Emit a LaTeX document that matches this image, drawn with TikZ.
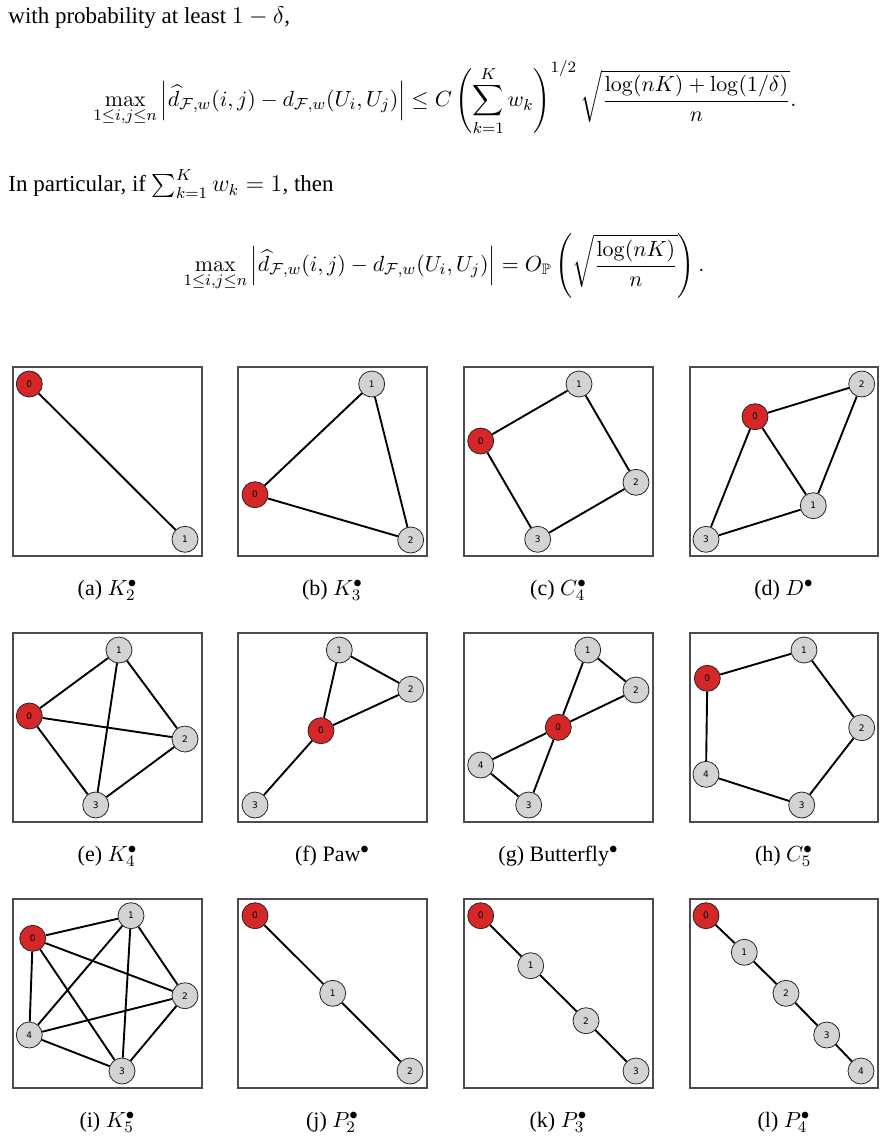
\documentclass[tikz,border=0pt]{standalone}
\usepackage{amsmath,amssymb}
\usepackage[no-math]{fontspec}
\setmainfont{Liberation Serif}
\newfontfamily\lblfont{DejaVu Sans}
\definecolor{nred}{HTML}{D62728}
\definecolor{ngray}{HTML}{D3D3D3}
\tikzset{
  gn/.style={circle, draw=black!85, line width=0.4pt, fill=ngray, minimum size=13pt, inner sep=0pt, font=\lblfont\fontsize{4.5}{4.5}\selectfont},
  rn/.style={gn, fill=nred},
  edgeline/.style={line width=0.95pt, black},
  framebox/.style={draw=black!70, line width=0.7pt},
  captext/.style={font=\fontsize{11}{13}\selectfont, inner sep=0pt, anchor=base},
  bodytext/.style={font=\fontsize{11.5}{13}\selectfont, inner sep=0pt, anchor=base west},
  eqn/.style={font=\fontsize{10.8}{13}\selectfont, inner sep=0pt}
}
\begin{document}
\begin{tikzpicture}[x=0.5pt,y=-0.5pt]
\useasboundingbox (0,0) rectangle (885,1141);

% text
\node[bodytext] (t1) at (8,23.5) {with probability at least $1-\delta$,};
\node[eqn] (eq1) at (445,98) {$\displaystyle \max_{1\le i,j\le n}\left|\widehat{d}_{\mathcal{F},w}(i,j)-d_{\mathcal{F},w}(U_i,U_j)\right|\le C\left(\sum_{k=1}^{K} w_k\right)^{1/2}\sqrt{\frac{\log(nK)+\log(1/\delta)}{n}}.$};
\node[bodytext] (t2) at (8,191.5) {In particular, if $\sum_{k=1}^{K} w_k=1$, then};
\node[eqn] (eq2) at (444,266) {$\displaystyle \max_{1\le i,j\le n}\left|\widehat{d}_{\mathcal{F},w}(i,j)-d_{\mathcal{F},w}(U_i,U_j)\right|= O_{\mathbb{P}}\left(\sqrt{\frac{\log(nK)}{n}}\right).$};

% frames
\foreach \xa/\xb in {13/202,238/427,464/653,690/878}
  \foreach \ya/\yb in {367/556,633/822,899/1088}
    \draw[framebox] (\xa,\ya) rectangle (\xb,\yb);

% (a)
\node[rn] (a0) at (29.3,384) {0};
\node[gn] (a1) at (185,539.3) {1};
\draw[edgeline] (a0) -- (a1);
% (b)
\node[rn] (b0) at (255,494.7) {0};
\node[gn] (b1) at (371.7,384) {1};
\node[gn] (b2) at (410.7,540) {2};
\draw[edgeline] (b0) -- (b1) (b1) -- (b2) (b2) -- (b0);
% (c)
\node[rn] (c0) at (480.7,441) {0};
\node[gn] (c1) at (579,384) {1};
\node[gn] (c2) at (636,482.3) {2};
\node[gn] (c3) at (537.7,539.3) {3};
\draw[edgeline] (c0) -- (c1) (c1) -- (c2) (c2) -- (c3) (c3) -- (c0);
% (d)
\node[rn] (d0) at (755,416.7) {0};
\node[gn] (d1) at (813.3,505.7) {1};
\node[gn] (d2) at (861.7,384) {2};
\node[gn] (d3) at (706,539.3) {3};
\draw[edgeline] (d0) -- (d2) (d0) -- (d1) (d0) -- (d3) (d2) -- (d1) (d1) -- (d3);
% (e)
\node[rn] (e0) at (29.3,716) {0};
\node[gn] (e1) at (119,650) {1};
\node[gn] (e2) at (185,739) {2};
\node[gn] (e3) at (95.7,805) {3};
\draw[edgeline] (e0) -- (e1) (e0) -- (e2) (e0) -- (e3) (e1) -- (e2) (e1) -- (e3) (e2) -- (e3);
% (f)
\node[rn] (f0) at (321,730.7) {0};
\node[gn] (f1) at (339.3,650) {1};
\node[gn] (f2) at (410.7,689.3) {2};
\node[gn] (f3) at (255,805) {3};
\draw[edgeline] (f0) -- (f1) (f1) -- (f2) (f2) -- (f0) (f0) -- (f3);
% (g)
\node[rn] (g0) at (558.3,727.3) {0};
\node[gn] (g1) at (587.7,650) {1};
\node[gn] (g2) at (636,690) {2};
\node[gn] (g3) at (528.7,805) {3};
\node[gn] (g4) at (480.7,765) {4};
\draw[edgeline] (g0) -- (g1) (g1) -- (g2) (g2) -- (g0) (g0) -- (g4) (g4) -- (g3) (g3) -- (g0);
% (h)
\node[rn] (h0) at (707.3,678.3) {0};
\node[gn] (h1) at (804,650) {1};
\node[gn] (h2) at (861.7,727.7) {2};
\node[gn] (h3) at (801.7,805) {3};
\node[gn] (h4) at (706,774.3) {4};
\draw[edgeline] (h0) -- (h1) (h1) -- (h2) (h2) -- (h3) (h3) -- (h4) (h4) -- (h0);
% (i)
\node[rn] (i0) at (32.7,938.3) {0};
\node[gn] (i1) at (131,915.7) {1};
\node[gn] (i2) at (185,995.7) {2};
\node[gn] (i3) at (122,1071) {3};
\node[gn] (i4) at (29.3,1035) {4};
\draw[edgeline] (i0) -- (i1) (i0) -- (i2) (i0) -- (i3) (i0) -- (i4) (i1) -- (i2) (i1) -- (i3) (i1) -- (i4) (i2) -- (i3) (i2) -- (i4) (i3) -- (i4);
% (j)
\node[rn] (j0) at (255,915.7) {0};
\node[gn] (j1) at (332.7,993.3) {1};
\node[gn] (j2) at (410,1071) {2};
\draw[edgeline] (j0) -- (j1) (j1) -- (j2);
% (k)
\node[rn] (k0) at (480.7,915.7) {0};
\node[gn] (k1) at (530.7,965.7) {1};
\node[gn] (k2) at (586,1020.7) {2};
\node[gn] (k3) at (636,1071) {3};
\draw[edgeline] (k0) -- (k1) (k1) -- (k2) (k2) -- (k3);
% (l)
\node[rn] (l0) at (706,915.7) {0};
\node[gn] (l1) at (744.3,952.3) {1};
\node[gn] (l2) at (786,993.3) {2};
\node[gn] (l3) at (826.7,1035) {3};
\node[gn] (l4) at (861,1071) {4};
\draw[edgeline] (l0) -- (l1) (l1) -- (l2) (l2) -- (l3) (l3) -- (l4);

% captions
\node[captext] (ca) at (107.5,595) {(a) $K_2^{\bullet}$};
\node[captext] (cb) at (332.5,595) {(b) $K_3^{\bullet}$};
\node[captext] (cc) at (558.5,595) {(c) $C_4^{\bullet}$};
\node[captext] (cd) at (784,595) {(d) $D^{\bullet}$};
\node[captext] (ce) at (107.5,861) {(e) $K_4^{\bullet}$};
\node[captext] (cf) at (332.5,861) {(f) Paw$^{\bullet}$};
\node[captext] (cg) at (558.5,861) {(g) Butterfly$^{\bullet}$};
\node[captext] (ch) at (784,861) {(h) $C_5^{\bullet}$};
\node[captext] (ci) at (107.5,1127) {(i) $K_5^{\bullet}$};
\node[captext] (cj) at (332.5,1127) {(j) $P_2^{\bullet}$};
\node[captext] (ck) at (558.5,1127) {(k) $P_3^{\bullet}$};
\node[captext] (cl) at (784,1127) {(l) $P_4^{\bullet}$};
\end{tikzpicture}
\end{document}
